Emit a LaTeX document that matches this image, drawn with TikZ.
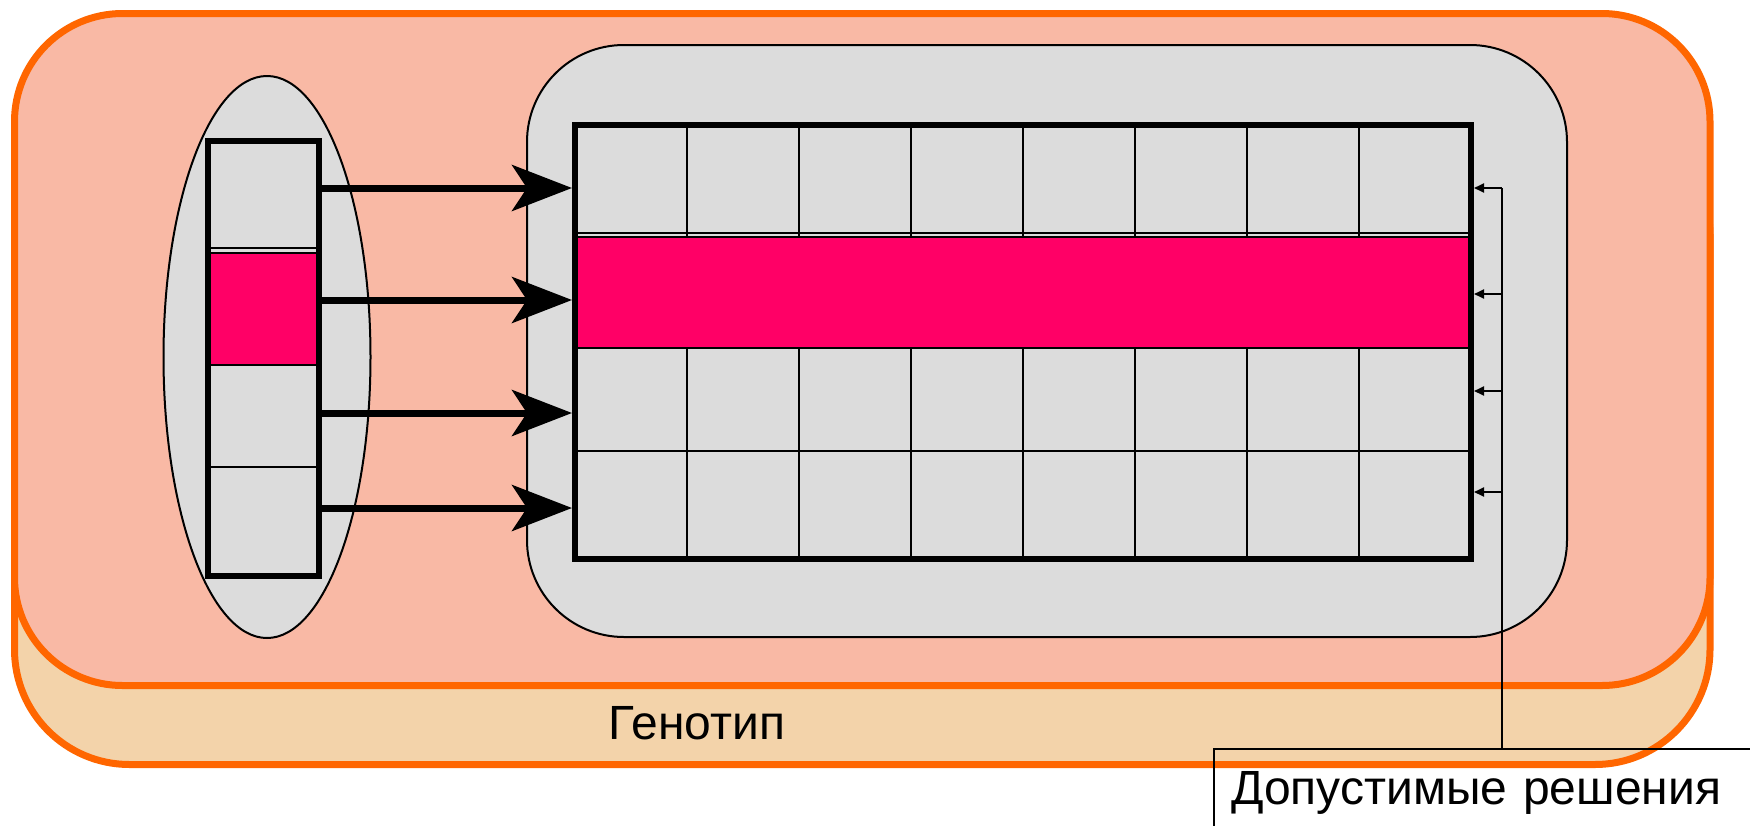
\documentclass[tikz,border=0pt]{standalone}
\usepackage{fontspec}
\setmainfont{Liberation Sans}
\usetikzlibrary{shapes.geometric,arrows.meta}
\definecolor{orng}{HTML}{FF6600}
\definecolor{salmon}{HTML}{F9B9A5}
\definecolor{tanbg}{HTML}{F3D3AA}
\definecolor{cellgray}{HTML}{DCDCDC}
\definecolor{magent}{HTML}{FF0066}
\tikzset{
  frame/.style={draw=orng,line width=7pt},
  thinln/.style={draw=black,line width=2pt},
  bigarrow/.style={line width=7pt,-{Stealth[length=60pt,width=46pt,inset=15pt]}},
  smallarrow/.style={line width=2pt,-{Triangle[length=10pt,width=9pt]}},
  pinkcell/.style={draw=black,line width=1.5pt,fill=magent,inner sep=0pt,outer sep=0pt},
  boxframe/.style={draw=black,line width=6pt,inner sep=0pt},
  lbl/.style={font=\fontsize{48}{54}\selectfont}
}
\begin{document}
\begin{tikzpicture}[x=1pt,y=-1pt]
\useasboundingbox (0,0) rectangle (1750,825);
\clip (0,0) rectangle (1750,825);
% background layers
\draw[frame,fill=tanbg,rounded corners=115pt] (14.5,120) rectangle (1710,764.5);
\draw[frame,fill=salmon,rounded corners=108pt] (14.5,13.5) rectangle (1710,685.5);
\draw[thinln,fill=cellgray,rounded corners=97pt] (527,45) rectangle (1567,637);
% left ellipse with column
\node[ellipse,draw,line width=2pt,fill=cellgray,minimum width=207pt,minimum height=562pt,inner sep=0pt] (ell) at (267,357) {};
\node[boxframe,fill=cellgray,minimum width=111.5pt,minimum height=434.5pt] (lbox) at (263.25,358.25) {};
\draw[thinln] (207.5,248) -- (319,248);
\draw[thinln] (207.5,467) -- (319,467);
\node[pinkcell,minimum width=110pt,minimum height=112pt] (lpink) at (263.25,309) {};
\node[boxframe,minimum width=111.5pt,minimum height=434.5pt] (lboxframe) at (lbox.center) {};
% grid
\node[boxframe,fill=cellgray,minimum width=896pt,minimum height=434pt] (grid) at (1023,342) {};
\foreach \k in {1,...,7} \draw[thinln] ({575+112*\k},125) -- ({575+112*\k},559);
\foreach \yy in {233,348,451} \draw[thinln] (575,\yy) -- (1471,\yy);
\node[pinkcell,minimum width=896pt,minimum height=111pt] (gpink) at (1023,292.5) {};
\node[boxframe,minimum width=896pt,minimum height=434pt] (gridframe) at (grid.center) {};
% big arrows
\foreach \yy [count=\i] in {188,300,413,508} {
  \coordinate (la\i) at (0,\yy);
  \draw[bigarrow] (lbox.east |- la\i) -- (grid.west |- la\i);
}
% solutions label
\node[draw=black,line width=2pt,anchor=north west,outer sep=0pt,inner xsep=17pt,inner ysep=0pt,
      text height=55pt,text depth=40pt,text width=600pt,align=left,lbl] (sol) at (1214,749) {Допустимые решения};
\coordinate (bustop) at (1502,188);
\draw[thinln] (sol.north -| bustop) -- (bustop);
\foreach \yy [count=\i] in {188,294,391,492} {
  \coordinate (ra\i) at (1502,\yy);
  \draw[smallarrow] (ra\i) -- (grid.east |- ra\i);
}
% genotype label
\node[lbl,anchor=base,inner sep=0pt] (geno) at (697,739) {Генотип};
\end{tikzpicture}
\end{document}
